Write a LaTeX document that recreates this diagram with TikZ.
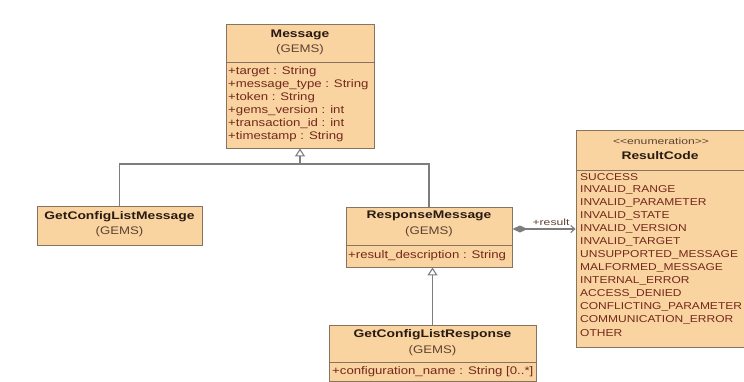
\documentclass[tikz,border=0pt]{standalone}
\usepackage{fontspec}
\setmainfont{Liberation Sans}
\newfontfamily\umlfont[FakeStretch=1.2]{Liberation Sans}
\newfontfamily\umlbfont[FakeStretch=1.26]{Liberation Sans}
\newfontfamily\umlwfont[FakeStretch=1.35]{Liberation Sans}
\usetikzlibrary{arrows.meta}
\definecolor{boxfill}{RGB}{249,212,160}
\definecolor{boxline}{RGB}{135,115,95}
\definecolor{titletext}{RGB}{40,26,18}
\definecolor{pkgtext}{RGB}{95,65,50}
\definecolor{attrtext}{RGB}{115,40,28}
\definecolor{connline}{RGB}{125,125,125}
\begin{document}
\begin{tikzpicture}[x=1pt,y=-1pt,
  classbox/.style={draw=boxline, fill=boxfill, line width=0.9pt, inner sep=0pt, rectangle},
  divider/.style={draw=boxline, line width=0.9pt},
  classtitle/.style={font=\umlbfont\bfseries\fontsize{11}{13}\selectfont, text=titletext, inner sep=0pt},
  pkgtext/.style={font=\umlfont\fontsize{11}{13}\selectfont, text=pkgtext, inner sep=0pt},
  stereo/.style={font=\umlwfont\fontsize{9}{10}\selectfont, text=pkgtext, inner sep=0pt},
  attr/.style={font=\umlfont\fontsize{11}{13}\selectfont, text=attrtext, anchor=west, inner sep=0pt},
  enumitem/.style={font=\umlfont\fontsize{10}{13}\selectfont, text=attrtext, anchor=west, inner sep=0pt},
  conn/.style={draw=connline, line width=1.1pt},
  gen/.style={conn, -{Triangle[length=8pt,width=10pt,fill=white]}},
  assoc/.style={conn, {Diamond[length=15pt,width=7pt,fill=connline]}-{Straight Barb[length=4pt,width=7pt]}},
  rolelabel/.style={font=\umlwfont\fontsize{9}{10}\selectfont, text=pkgtext, inner sep=0pt}
]
\fill[white] (0,0) rectangle (744,381);
\useasboundingbox (0,0) rectangle (744,381);

% ---------- Message ----------
\node[classbox, minimum width=148pt, minimum height=124pt] (msg) at (300,86) {};
\draw[divider] (msg.west |- 0,62) -- (msg.east |- 0,62);
\node[classtitle] (msg-t) at (300,35) {Message};
\node[pkgtext] (msg-p) at (300,50) {(GEMS)};
\foreach \txt [count=\i from 0] in {+target : String,+message\_type : String,+token : String,+gems\_version : int,+transaction\_id : int,+timestamp : String}{
  \node[attr] (msg-a\i) at (228,72+13*\i) {\txt};
}

% ---------- GetConfigListMessage ----------
\node[classbox, minimum width=165pt, minimum height=39pt] (gclm) at (119.5,225.5) {};
\node[classtitle] (gclm-t) at (119.5,217) {GetConfigListMessage};
\node[pkgtext] (gclm-p) at (119.5,232) {(GEMS)};

% ---------- ResponseMessage ----------
\node[classbox, minimum width=166pt, minimum height=60pt] (rm) at (429,237) {};
\draw[divider] (rm.west |- 0,245) -- (rm.east |- 0,245);
\node[classtitle] (rm-t) at (429,216) {ResponseMessage};
\node[pkgtext] (rm-p) at (429,232) {(GEMS)};
\node[attr] (rm-a0) at (348,256) {+result\_description : String};

% ---------- GetConfigListResponse ----------
\node[classbox, minimum width=207pt, minimum height=56pt] (gclr) at (432.5,353) {};
\draw[divider] (gclr.west |- 0,362) -- (gclr.east |- 0,362);
\node[classtitle] (gclr-t) at (432.5,335) {GetConfigListResponse};
\node[pkgtext] (gclr-p) at (432.5,351) {(GEMS)};
\node[attr] (gclr-a0) at (332,372) {+configuration\_name : String [0..*]};

% ---------- ResultCode ----------
\node[classbox, minimum width=168pt, minimum height=217pt] (rc) at (660,238.5) {};
\draw[divider] (rc.west |- 0,170) -- (rc.east |- 0,170);
\node[stereo] (rc-s) at (661,141) {<<enumeration>>};
\node[classtitle] (rc-t) at (660,156) {ResultCode};
\foreach \txt [count=\i from 0] in {SUCCESS,INVALID\_RANGE,INVALID\_PARAMETER,INVALID\_STATE,INVALID\_VERSION,INVALID\_TARGET,UNSUPPORTED\_MESSAGE,MALFORMED\_MESSAGE,INTERNAL\_ERROR,ACCESS\_DENIED,CONFLICTING\_PARAMETER,COMMUNICATION\_ERROR,OTHER}{
  \node[enumitem] (rc-e\i) at (580,177+13*\i) {\txt};
}

% ---------- connectors ----------
\coordinate (j1) at (300,164);
\draw[conn] (gclm.north) |- (j1) -| (rm.north);
\draw[gen] (j1) -- (msg.south);
\draw[gen] (gclr.north) -- (gclr.north |- rm.south);
\draw[assoc] (rm.east |- 0,229) -- (rc.west |- 0,229);
\node[rolelabel, anchor=south] (role) at (551,226) {+result};
\end{tikzpicture}
\end{document}
